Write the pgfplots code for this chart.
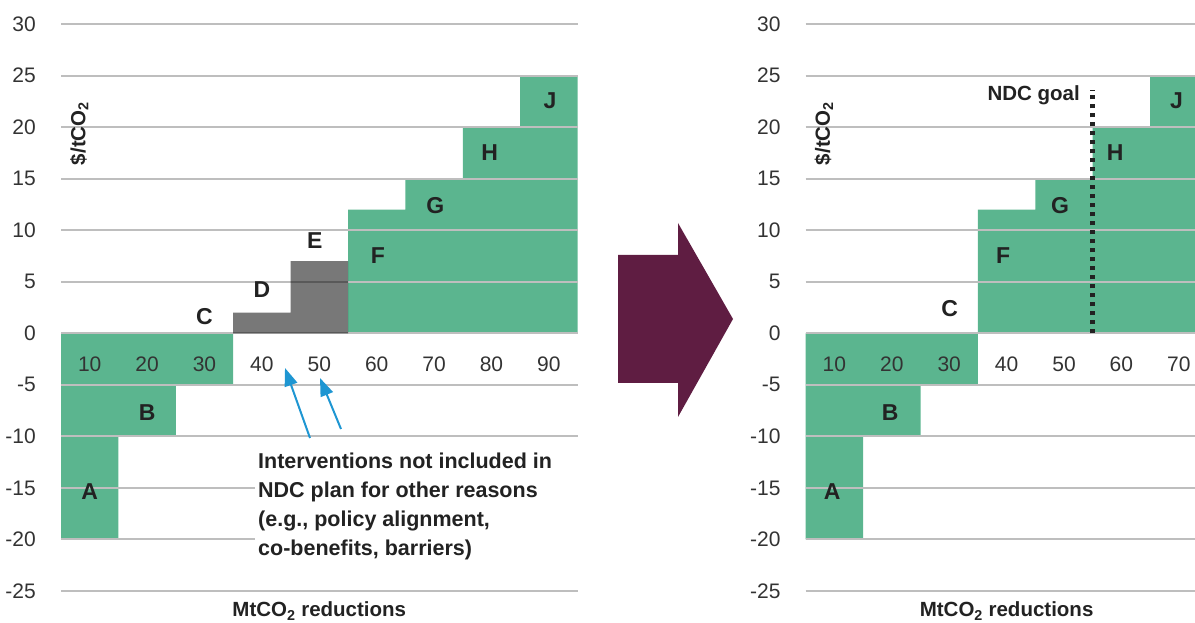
\documentclass[border=0pt]{standalone}
\usepackage{pgfplots}
\pgfplotsset{compat=1.18}
\usepackage{fontspec}
\setmainfont{Liberation Sans}
\usetikzlibrary{arrows.meta}
\definecolor{bargreen}{RGB}{91,181,143}
\definecolor{maroonarrow}{RGB}{95,29,66}
\definecolor{arrowblue}{RGB}{30,150,210}
\definecolor{ticktext}{RGB}{51,51,51}
\definecolor{lettertext}{RGB}{34,34,34}
\definecolor{gridgray}{RGB}{190,190,190}
\pgfplotsset{
  panel/.style={
    scale only axis,
    height=567bp,
    ymin=-25, ymax=30,
    xmin=0,
    axis x line*=middle,
    axis y line*=left,
    axis line style={draw=none},
    major tick length=0pt,
    hide obscured x ticks=false,
    hide obscured y ticks=false,
    ytick={-25,-20,-15,-10,-5,0,5,10,15,20,25,30},
    yticklabels={-25,-20,-15,-10,-5,0,5,10,15,20,25,30},
    ymajorgrids,
    major grid style={gridgray, line width=2bp},
    axis on top,
    /pgf/number format/assume math mode=true,
    tick label style={font=\fontsize{21bp}{25bp}\selectfont, text=ticktext, inner sep=0pt},
    yticklabel style={anchor=east, xshift=-25bp},
    xticklabel style={anchor=north, yshift=-23.7bp},
  },
  overlay panel/.style={
    scale only axis,
    height=567bp,
    ymin=-25, ymax=30,
    xmin=0,
    hide axis,
  },
}
\tikzset{lt/.style={font=\bfseries\fontsize{23bp}{27bp}\selectfont, text=lettertext, inner sep=0pt}}
\newcommand{\bt}{\bfseries\fontsize{20.5bp}{24bp}\selectfont}
\newcommand{\bta}{\bfseries\fontsize{21.5bp}{25bp}\selectfont}
\begin{document}
\begin{tikzpicture}[x=1bp,y=1bp]
% ---------- left panel ----------
\begin{axis}[panel, width=516.6bp, xmax=90, at={(61bp,32bp)}, anchor=south west,
  xtick={5,15,25,35,45,55,65,75,85},
  xticklabels={10,20,30,40,50,60,70,80,90}]
\addplot[const plot, fill=bargreen, draw=none] coordinates {(0,-20)(10,-10)(20,-5)(30,0)} \closedcycle;
\addplot[const plot, fill=bargreen, draw=none] coordinates {(50,12)(60,15)(70,20)(80,25)(90,25)} \closedcycle;
\end{axis}
% gray (excluded) interventions, drawn translucent over the grid, and labels
\begin{axis}[overlay panel, width=516.6bp, xmax=90, at={(61bp,32bp)}, anchor=south west]
\addplot[const plot, fill=black, fill opacity=0.53, draw=none] coordinates {(30,2)(40,7)(50,7)} \closedcycle;
\node[lt] at (axis cs:5,-15.4) {A};
\node[lt] at (axis cs:15,-7.7) {B};
\node[lt] at (axis cs:25,1.65) {C};
\node[lt] at (axis cs:35,4.2) {D};
\node[lt] at (axis cs:44.2,9.0) {E};
\node[lt] at (axis cs:55.2,7.5) {F};
\node[lt] at (axis cs:65.2,12.4) {G};
\node[lt] at (axis cs:74.7,17.5) {H};
\node[lt] at (axis cs:85.2,22.6) {J};
\node[rotate=90, anchor=base west, inner sep=0pt, text=lettertext, font=\bt] at (axis cs:4.23,16.3) {\$/tCO\textsubscript{2}};
\end{axis}
% ---------- right panel ----------
\begin{axis}[panel, width=401.8bp, xmax=70, at={(805.7bp,32bp)}, anchor=south west,
  xtick={5,15,25,35,45,55,65},
  xticklabels={10,20,30,40,50,60,70}]
\addplot[const plot, fill=bargreen, draw=none] coordinates {(0,-20)(10,-10)(20,-5)(30,0)} \closedcycle;
\addplot[const plot, fill=bargreen, draw=none] coordinates {(30,12)(40,15)(50,20)(60,25)(70,25)} \closedcycle;
\end{axis}
% NDC goal line and labels, drawn over the grid
\begin{axis}[overlay panel, width=401.8bp, xmax=70, at={(805.7bp,32bp)}, anchor=south west]
\addplot[draw=lettertext, line width=4.5bp, dash pattern=on 4.5bp off 4.5bp] coordinates {(50,0)(50,23.6)};
\node[lt] at (axis cs:4.6,-15.4) {A};
\node[lt] at (axis cs:14.7,-7.7) {B};
\node[lt] at (axis cs:25.1,2.4) {C};
\node[lt] at (axis cs:34.4,7.5) {F};
\node[lt] at (axis cs:44.3,12.4) {G};
\node[lt] at (axis cs:53.9,17.5) {H};
\node[lt] at (axis cs:64.6,22.6) {J};
\node[rotate=90, anchor=base west, inner sep=0pt, text=lettertext, font=\bt] at (axis cs:4.23,16.3) {\$/tCO\textsubscript{2}};
\end{axis}
% ---------- annotations ----------
\node[anchor=base, inner sep=0pt, text=lettertext, font=\bt] at (319.3,6) {MtCO\textsubscript{2} reductions};
\node[anchor=base, inner sep=0pt, text=lettertext, font=\bt] at (1006.6,6) {MtCO\textsubscript{2} reductions};
\fill[maroonarrow] (618,368) -- (678,368) -- (678,400) -- (733,304) -- (678,206) -- (678,240) -- (618,240) -- cycle;
\fill[white] (255,176) rectangle (580,51);
\node[anchor=base west, inner sep=0pt, text=lettertext, font=\bta] at (258,154) {Interventions not included in};
\node[anchor=base west, inner sep=0pt, text=lettertext, font=\bta] at (258,125) {NDC plan for other reasons};
\node[anchor=base west, inner sep=0pt, text=lettertext, font=\bta] at (258,96) {(e.g., policy alignment,};
\node[anchor=base west, inner sep=0pt, text=lettertext, font=\bta] at (258,67) {co-benefits, barriers)};
\draw[arrowblue, line width=2bp, -{Triangle[length=18bp,width=13bp]}] (310,185) -- (285,255);
\draw[arrowblue, line width=2bp, -{Triangle[length=18bp,width=13bp]}] (341,194) -- (320,245);
\node[anchor=base east, inner sep=0pt, text=lettertext, font=\bt] at (1080,522) {NDC goal};
\pgfresetboundingbox
\useasboundingbox (0,0) rectangle (1195,623);
\end{tikzpicture}
\end{document}
